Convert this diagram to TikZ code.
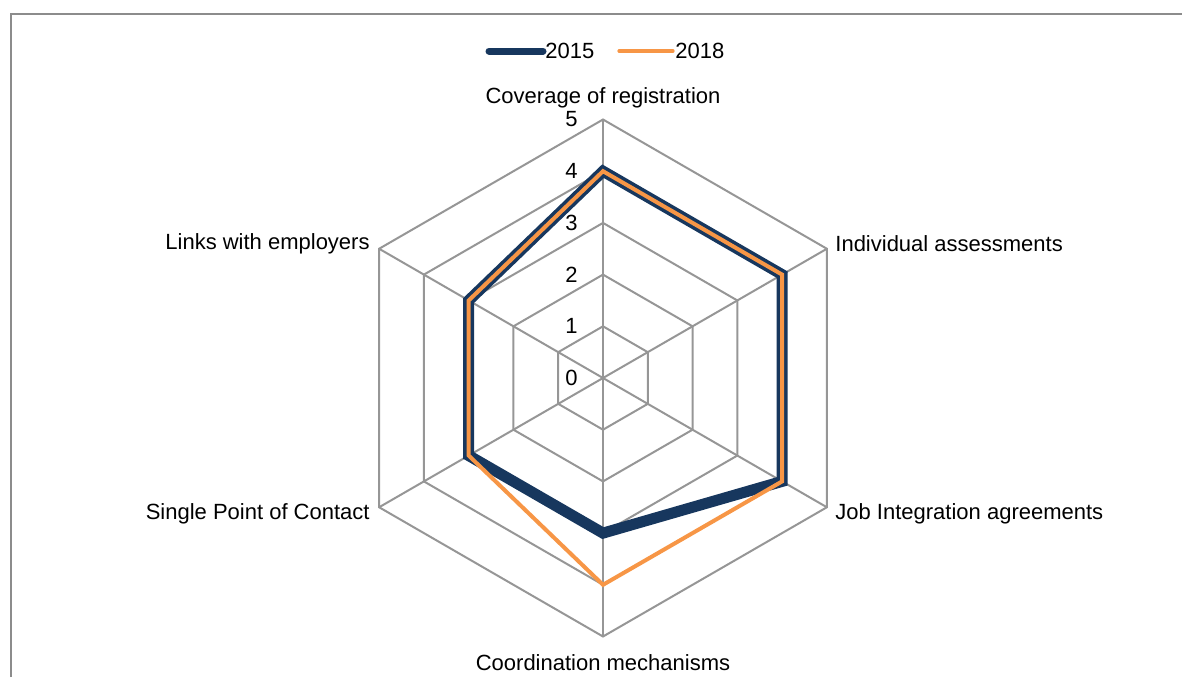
\documentclass[tikz,border=0pt]{standalone}
\usepackage{fontspec}
\setmainfont{Liberation Sans}
\usetikzlibrary{positioning}
\usetikzlibrary{calc}
\definecolor{navy}{HTML}{17375E}
\definecolor{tangerine}{HTML}{F79646}
\definecolor{webgray}{HTML}{969696}
\tikzset{
  frame/.style     = { draw=black!45, line width=1pt },
  webline/.style   = { draw=webgray, line width=1pt },
  txt/.style       = { font=\fontsize{11}{13}\selectfont, inner sep=0pt },
  ticklabel/.style = { txt, anchor=east },
}
\tikzset{
  serie2015/.style = { draw=navy, line width=5.5pt },
  serie2018/.style = { draw=tangerine, line width=2pt },
}

\begin{document}
\begin{tikzpicture}[x=0.5pt,y=0.5pt]
  \useasboundingbox (0,0) rectangle (1182,677);
  \draw [frame] (11,0) -- (11,663) -- (1182,663);

  % legend
  \coordinate (k15a) at (489,626);
  \coordinate (k15b) at (543,626);
  \coordinate (k18a) at (619,626);
  \coordinate (k18b) at (673,626);
  \draw [serie2015,line width=3.5pt,line cap=round] (k15a) -- (k15b);
  \draw [serie2018,line width=1.6pt,line cap=round] (k18a) -- (k18b);
  \node (y2015) [txt,right=1pt of k15b] {2015};
  \node (y2018) [txt,right=1pt of k18b] {2018};

  \begin{scope}[shift={(603,299)}]
    \def\u{51.7}
    % axes
    \foreach \a [count=\i] in {90,30,-30,-90,-150,150}
      \coordinate (ax\i) at (\a:5*\u);
    \coordinate (o) at (0,0);
    \foreach \r in {1,...,5}
      \draw [webline] (90:\r*\u) -- (30:\r*\u) -- (-30:\r*\u) -- (-90:\r*\u)
        -- (-150:\r*\u) -- (150:\r*\u) -- cycle;
    \foreach \i in {1,...,6}
      \draw [webline] (o) -- (ax\i);
    \foreach \r in {0,...,5}
      \node (t\r) [ticklabel] at (-25,\r*\u) {\r};

    % data
    \draw [serie2015] (90:4*\u) -- (30:4*\u) -- (-30:4*\u) -- (-90:3*\u)
      -- (-150:3*\u) -- (150:3*\u) -- cycle;
    \draw [serie2018] (90:4*\u) -- (30:4*\u) -- (-30:4*\u) -- (-90:4*\u)
      -- (-150:3*\u) -- (150:3*\u) -- cycle;
  \end{scope}

  % axis names
  \node (cov) [txt,above=5.5pt of ax1]          {Coverage of registration};
  \node (ind) [txt,anchor=west] at (835,433)    {Individual assessments};
  \node (job) [txt,anchor=west] at (835,163)    {Job Integration agreements};
  \node (coo) [txt,below=9pt of ax4]            {Coordination mechanisms};
  \node (spc) [txt,anchor=east] at (370,163)    {Single Point of Contact};
  \node (lnk) [txt,anchor=east] at (370,433)    {Links with employers};
\end{tikzpicture}
\end{document}
